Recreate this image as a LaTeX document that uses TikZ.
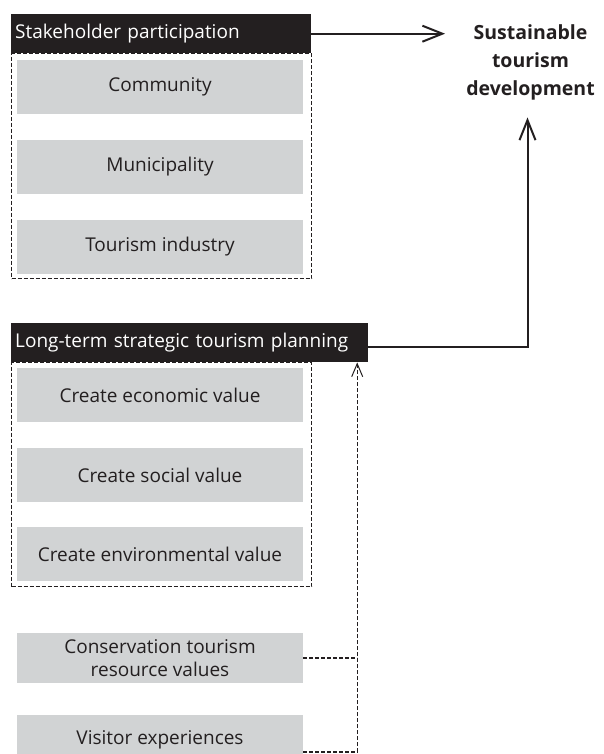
\documentclass[tikz,border=0pt]{standalone}
\usepackage{fontspec}
\setmainfont{Open Sans}
\usetikzlibrary{arrows.meta}
\definecolor{ink}{HTML}{231F20}
\definecolor{boxgray}{HTML}{D1D3D4}
\begin{document}
\begin{tikzpicture}[x=1pt,y=-1pt,
  hdr/.style={fill=ink, text=white, anchor=north west, minimum height=39pt, inner xsep=4pt, inner ysep=0pt, align=left, font=\fontsize{19}{23}\selectfont},
  item/.style={fill=boxgray, text=ink, minimum width=286pt, minimum height=54pt, inner sep=0pt, align=center, font=\fontsize{19}{23}\selectfont},
  grp/.style={draw=ink, line width=1.1pt, dash pattern=on 4pt off 2pt, anchor=north west, minimum width=300pt, inner sep=0pt},
  mainarrow/.style={draw=ink, line width=2pt, -{Straight Barb[length=20pt,width=16pt,line width=2pt]}},
  dsh/.style={draw=ink, line width=1.1pt, dash pattern=on 4pt off 2pt}
]
\useasboundingbox (0,0) rectangle (603,754);
% groups
\node[grp, minimum height=225pt] (g1) at (11,53) {};
\node[grp, minimum height=224pt] (g2) at (11,362) {};
% headers
\node[hdr, text width=292pt] (h1) at (11,14) {\raisebox{-1.5pt}{Stakeholder participation}};
\node[hdr, text width=349pt] (h2) at (11,323) {\raisebox{-1.5pt}{Long-term strategic tourism planning}};
% items
\node[item] (c1) at (160,87) {Community};
\node[item] (c2) at (160,167) {Municipality};
\node[item] (c3) at (160,247) {Tourism industry};
\node[item] (e1) at (160,395) {Create economic value};
\node[item] (e2) at (160,475) {Create social value};
\node[item] (e3) at (160,554) {Create environmental value};
\node[item, minimum height=50pt] (cons) at (160,658) {Conservation tourism\\resource values};
\node[item, minimum height=50pt] (vis) at (160,740) {Visitor experiences};
% goal
\node[font=\bfseries\fontsize{19.5}{28}\selectfont, align=center, text=ink, inner xsep=21pt, inner ysep=17pt] (goal) at (530.5,62.5) {Sustainable\\tourism\\development};
% connectors
\draw[mainarrow] (h1.east) -- (h1.east -| goal.west);
\draw[mainarrow] ([yshift=-4pt]h2.east) -| ([xshift=-3pt]goal.south);
\draw[dsh] (cons.east) -- ([xshift=167.5pt]h2.south |- cons.east);
\draw[dsh, -{Straight Barb[length=13pt,width=11pt,line width=1pt]}] ([yshift=-12pt]vis.east) -| ([xshift=167.5pt]h2.south);
\end{tikzpicture}
\end{document}
